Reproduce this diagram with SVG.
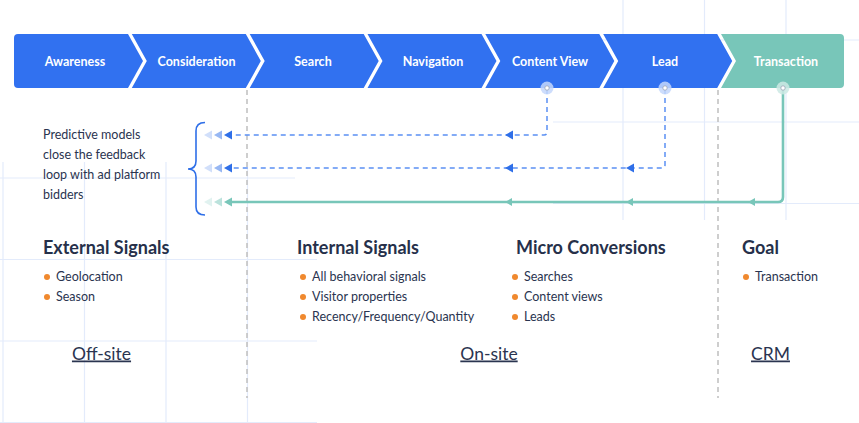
<svg xmlns="http://www.w3.org/2000/svg" width="859" height="423" viewBox="0 0 859 423">
<defs>
<style>
.grid line{stroke:#e3ebfb;stroke-width:1.2}
.seg{fill:#3171f0}
.segt{fill:#78c6b9}
.lbl{font-family:Lato,"Noto Sans",sans-serif;font-weight:700;font-size:12.5px;fill:#fff;text-anchor:middle}
.body{font-family:Lato,"Noto Sans",sans-serif;font-size:12.5px;fill:#2a3450}
.head{font-family:Lato,"Noto Sans",sans-serif;font-weight:700;font-size:18px;fill:#26304a}
.zone{font-family:Lato,"Noto Sans",sans-serif;font-size:17.5px;fill:#2a3450;text-anchor:middle;text-decoration:underline}
.dot{fill:#f0892e}
.sep{stroke:#c2c2c2;stroke-width:1.6;stroke-dasharray:5 4;fill:none}
.dash{stroke:#5b90f3;stroke-width:1.5;stroke-dasharray:5 4;fill:none}
.solid{stroke:#78c6b9;stroke-width:2.6;fill:none}
.ahb{fill:#2f6fe8}
.aht{fill:#78c6b9}
</style>
</defs>
<rect width="859" height="423" fill="#fff"/>
<g class="grid">
<line x1="3" y1="162" x2="3" y2="423"/>
<line x1="84.5" y1="162" x2="84.5" y2="423"/>
<line x1="166" y1="162" x2="166" y2="423"/>
<line x1="247.5" y1="162" x2="247.5" y2="423"/>
<line x1="0" y1="178" x2="295" y2="178"/>
<line x1="0" y1="259.5" x2="317" y2="259.5"/>
<line x1="0" y1="341" x2="317" y2="341"/>
<line x1="0" y1="422.5" x2="317" y2="422.5"/>
<line x1="623" y1="0" x2="623" y2="220"/>
<line x1="704.5" y1="0" x2="704.5" y2="220"/>
<line x1="786" y1="0" x2="786" y2="220"/>
<line x1="553" y1="40" x2="859" y2="40"/>
<line x1="553" y1="122" x2="859" y2="122"/>
<line x1="553" y1="203.5" x2="859" y2="203.5"/>
</g>
<g id="separators">
<line class="sep" x1="247" y1="90" x2="247" y2="398"/>
<line class="sep" x1="718" y1="90" x2="718" y2="398"/>
</g>
<g id="awareness">
<path class="seg" d="M18,34 H128 L143,61 L128,88 H18 Q14,88 14,84 V38 Q14,34 18,34 Z"/>
<text class="lbl" x="75" y="65.5">Awareness</text>
</g>
<g id="consideration">
<path class="seg" d="M131.8,34 H245.8 L260.8,61 L245.8,88 H131.8 L146.8,61 Z"/>
<text class="lbl" x="196.5" y="65.5">Consideration</text>
</g>
<g id="search">
<path class="seg" d="M249.7,34 H363.7 L378.7,61 L363.7,88 H249.7 L264.7,61 Z"/>
<text class="lbl" x="313" y="65.5">Search</text>
</g>
<g id="navigation">
<path class="seg" d="M367.5,34 H481.5 L496.5,61 L481.5,88 H367.5 L382.5,61 Z"/>
<text class="lbl" x="433" y="65.5">Navigation</text>
</g>
<g id="content-view">
<path class="seg" d="M485.3,34 H599.3 L614.3,61 L599.3,88 H485.3 L500.3,61 Z"/>
<text class="lbl" x="550" y="65.5">Content View</text>
</g>
<g id="lead">
<path class="seg" d="M603.2,34 H717.2 L732.2,61 L717.2,88 H603.2 L618.2,61 Z"/>
<text class="lbl" x="665" y="65.5">Lead</text>
</g>
<g id="transaction">
<path class="segt" d="M721,34 H840 Q844,34 844,38 V84 Q844,88 840,88 H721 L736,61 Z"/>
<text class="lbl" x="786" y="65.5">Transaction</text>
</g>
<g id="connectors">
<path class="dash" d="M547,89 V132 Q547,135 544,135 H232"/>
<path class="dash" d="M665,89 V165 Q665,168 662,168 H232"/>
<path class="solid" d="M783,89 V197 Q783,202 778,202 H232"/>
<path class="ahb" d="M505,135 L513,130.5 V139.5 Z"/>
<path class="ahb" d="M505,168 L513,163.5 V172.5 Z"/>
<path class="ahb" d="M626,168 L634,163.5 V172.5 Z"/>
<path class="aht" d="M505,202 L512,198 V206 Z"/>
<path class="aht" d="M626,202 L633,198 V206 Z"/>
<path class="aht" d="M748,202 L755,198 V206 Z"/>
<g class="ahb">
<path d="M224,135 L232,130.5 V139.5 Z"/>
<path d="M214,135 L222,130.5 V139.5 Z" opacity="0.5"/>
<path d="M204,135 L212,130.5 V139.5 Z" opacity="0.22"/>
<path d="M224,168 L232,163.5 V172.5 Z"/>
<path d="M214,168 L222,163.5 V172.5 Z" opacity="0.5"/>
<path d="M204,168 L212,163.5 V172.5 Z" opacity="0.22"/>
</g>
<g class="aht">
<path d="M224,202 L232,197.5 V206.5 Z"/>
<path d="M214,202 L222,197.5 V206.5 Z" opacity="0.5"/>
<path d="M204,202 L212,197.5 V206.5 Z" opacity="0.22"/>
</g>
<circle cx="547" cy="88" r="6.5" fill="#c4d7fb" opacity="0.85"/>
<circle cx="547" cy="88" r="2.2" fill="#fff" stroke="#9aa3b5" stroke-width="0.8"/>
<circle cx="665" cy="88" r="6.5" fill="#c4d7fb" opacity="0.85"/>
<circle cx="665" cy="88" r="2.2" fill="#fff" stroke="#9aa3b5" stroke-width="0.8"/>
<circle cx="783" cy="88" r="6.5" fill="#cde9e4" opacity="0.85"/>
<circle cx="783" cy="88" r="2.2" fill="#fff" stroke="#9aa3b5" stroke-width="0.8"/>
</g>
<g id="feedback-note">
<path d="M205,122.5 Q196,122.5 196,131 V161 Q196,169 188,169 Q196,169 196,177 V207 Q196,215 205,215" fill="none" stroke="#2f6fe8" stroke-width="1.6"/>
<text class="body" x="43" y="139">Predictive models</text>
<text class="body" x="43" y="159">close the feedback</text>
<text class="body" x="43" y="179">loop with ad platform</text>
<text class="body" x="43" y="199">bidders</text>
</g>
<g id="external-signals">
<text class="head" x="43" y="253.5">External Signals</text>
<circle class="dot" cx="47" cy="277" r="3"/>
<text class="body" x="56" y="280.5">Geolocation</text>
<circle class="dot" cx="47" cy="297" r="3"/>
<text class="body" x="56" y="300.5">Season</text>
</g>
<g id="internal-signals">
<text class="head" x="297" y="253.5">Internal Signals</text>
<circle class="dot" cx="303" cy="277" r="3"/>
<text class="body" x="312" y="280.5">All behavioral signals</text>
<circle class="dot" cx="303" cy="297" r="3"/>
<text class="body" x="312" y="300.5">Visitor properties</text>
<circle class="dot" cx="303" cy="317" r="3"/>
<text class="body" x="312" y="320.5">Recency/Frequency/Quantity</text>
</g>
<g id="micro-conversions">
<text class="head" x="516" y="253.5">Micro Conversions</text>
<circle class="dot" cx="515" cy="277" r="3"/>
<text class="body" x="524" y="280.5">Searches</text>
<circle class="dot" cx="515" cy="297" r="3"/>
<text class="body" x="524" y="300.5">Content views</text>
<circle class="dot" cx="515" cy="317" r="3"/>
<text class="body" x="524" y="320.5">Leads</text>
</g>
<g id="goal">
<text class="head" x="742" y="253.5">Goal</text>
<circle class="dot" cx="746" cy="277" r="3"/>
<text class="body" x="755" y="280.5">Transaction</text>
</g>
<g id="zones">
<text class="zone" x="101.5" y="359.5">Off-site</text>
<text class="zone" x="489" y="359.5">On-site</text>
<text class="zone" x="770.5" y="359.5">CRM</text>
</g>
</svg>
